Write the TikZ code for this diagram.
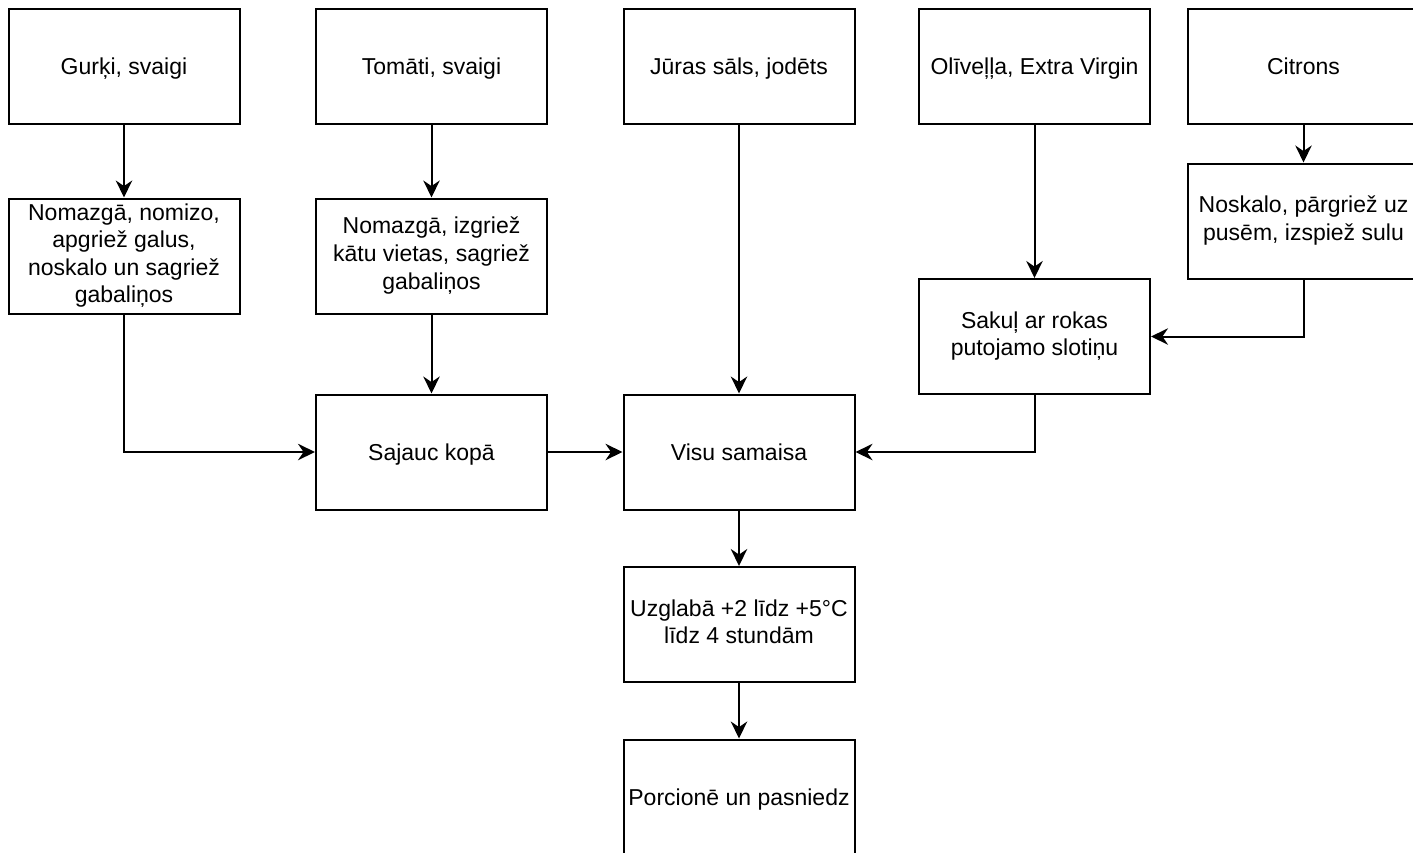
\documentclass[tikz,border=0pt]{standalone}
\usepackage{fontspec}
\setmainfont{Liberation Sans}
\usetikzlibrary{arrows.meta}
% invisible line box: fixed height and depth so every label sits alike
\newcommand\lblstrut{\rule[-2.9pt]{0pt}{13.8pt}}
\begin{document}
\begin{tikzpicture}[x=0.5pt,y=-0.5pt,
  stepbox/.style={draw=black, line width=1pt, fill=white, minimum width=115.5pt,
    minimum height=57.5pt, inner sep=0pt, align=center,
    font=\fontsize{11.5}{13.8}\selectfont,
    execute at begin node=\lblstrut, execute at end node=\lblstrut},
  arr/.style={draw=black, line width=1pt,
    -{Stealth[length=8.5pt, width=8.2pt, inset=2.8pt]}}]
\useasboundingbox[fill=white] (0,0) rectangle (1413,852);

% ingredients
\node[stepbox] (gurki)   at (124,66)    {Gurķi, svaigi};
\node[stepbox] (tomati)  at (431.5,66)  {Tomāti, svaigi};
\node[stepbox] (juras)   at (739,66)    {Jūras sāls, jodēts};
\node[stepbox] (oliv)    at (1034.5,66) {Olīveļļa, Extra Virgin};
\node[stepbox] (citrons) at (1303.5,66) {Citrons};

% preparation
\node[stepbox] (prepg)   at (124,256)    {Nomazgā, nomizo,\\apgriež galus,\\noskalo un sagriež\\gabaliņos};
\node[stepbox] (prept)   at (431.5,256)  {Nomazgā, izgriež\\kātu vietas, sagriež\\gabaliņos};
\node[stepbox] (noskalo) at (1303.5,221) {Noskalo, pārgriež uz\\pusēm, izspiež sulu};
\node[stepbox] (sakul)   at (1034.5,336.5) {Sakuļ ar rokas\\putojamo slotiņu};

% mixing and serving
\node[stepbox] (sajauc)  at (431.5,452) {Sajauc kopā};
\node[stepbox] (visu)    at (739,452)   {Visu samaisa};
\node[stepbox] (uzgl)    at (739,624.5) {Uzglabā +2 līdz +5°C\\līdz 4 stundām};
\node[stepbox] (porc)    at (739,797)   {Porcionē un pasniedz};

% connectors
\draw[arr] (gurki.south) -- (prepg.north);
\draw[arr] (tomati.south) -- (prept.north);
\draw[arr] (citrons.south) -- (noskalo.north);
\draw[arr] (oliv.south) -- (sakul.north);
\draw[arr] (juras.south) -- (visu.north);
\draw[arr] (noskalo.south) |- (sakul.east);
\draw[arr] (prepg.south) |- (sajauc.west);
\draw[arr] (prept.south) -- (sajauc.north);
\draw[arr] (sajauc.east) -- (visu.west);
\draw[arr] (sakul.south) |- (visu.east);
\draw[arr] (visu.south) -- (uzgl.north);
\draw[arr] (uzgl.south) -- (porc.north);
\end{tikzpicture}
\end{document}
